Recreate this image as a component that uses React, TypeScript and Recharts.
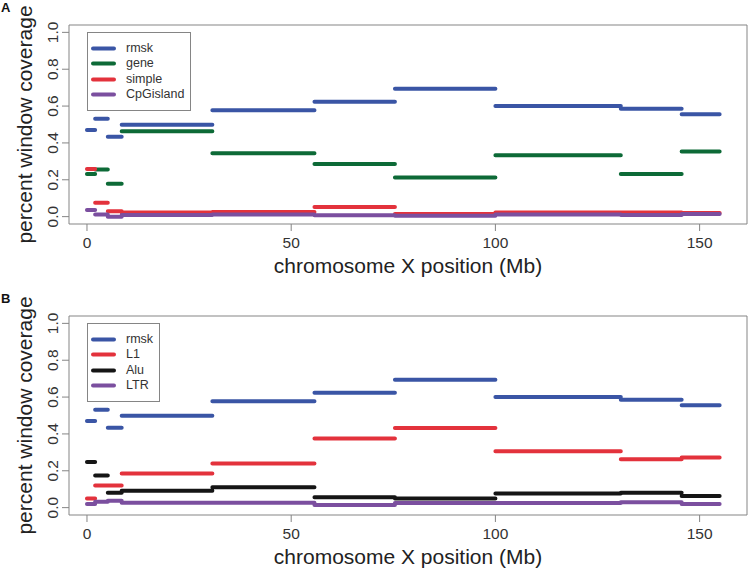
import { ComposedChart, Label, Legend, Line, ReferenceArea, XAxis, YAxis } from "recharts";

// window boundaries along chrX (Mb)
const binEdges = [0, 2, 5.1, 8.5, 30.7, 55.7, 75.4, 100, 130.7, 145.6, 154.9];

const xTicks = [0, 50, 100, 150];
const yTicks = [0, 0.2, 0.4, 0.6, 0.8, 1.0];

// panel A
const rmsk = [0.47, 0.531, 0.434, 0.499, 0.578, 0.623, 0.694, 0.6, 0.585, 0.555];
const gene = [0.232, 0.256, 0.178, 0.463, 0.344, 0.286, 0.212, 0.333, 0.231, 0.353];
const simple = [0.259, 0.075, 0.029, 0.022, 0.025, 0.052, 0.014, 0.023, 0.023, 0.02];
const cpgIsland = [0.036, 0.011, 0.0, 0.009, 0.012, 0.007, 0.005, 0.012, 0.009, 0.014];

// panel B
const l1 = [0.05, 0.12, 0.12, 0.185, 0.239, 0.375, 0.432, 0.306, 0.263, 0.272];
const alu = [0.247, 0.175, 0.081, 0.092, 0.11, 0.057, 0.049, 0.077, 0.081, 0.063];
const ltr = [0.02, 0.032, 0.038, 0.027, 0.027, 0.014, 0.025, 0.025, 0.029, 0.02];

const BLUE = "#3a55a5";
const GREEN = "#0d6a37";
const RED = "#e3323c";
const PURPLE = "#7b4f9f";
const BLACK = "#151515";

const FONT = "'Liberation Sans', Arial, Helvetica, sans-serif";
const AXIS_GRAY = "#858585";
const xDomain: [number, number] = [-4.4, 161.6];
const yDomain: [number, number] = [-0.04, 1.04];

type Series = { name: string; color: string; values: number[] };

// each window drawn as its own flat segment, broken by a null point
function steps(values: number[]) {
  const pts: { x: number; y: number | null }[] = [];
  values.forEach((v, i) => {
    pts.push({ x: binEdges[i], y: v });
    pts.push({ x: binEdges[i + 1], y: v });
    pts.push({ x: binEdges[i + 1], y: null });
  });
  return pts;
}

function XTick({ x, y, payload }: any) {
  return (
    <text x={x} y={y} dy={17} textAnchor="middle" fontSize={15.5} fill="#333" fontFamily={FONT}>
      {payload.value}
    </text>
  );
}

function YTick({ y, payload }: any) {
  const bx = 58;
  return (
    <text
      x={bx}
      y={y}
      transform={`rotate(-90 ${bx} ${y})`}
      textAnchor="middle"
      fontSize={15.5}
      fill="#333"
      fontFamily={FONT}
    >
      {Number(payload.value).toFixed(1)}
    </text>
  );
}

function LegendBox({ payload, order }: any) {
  const items = [...(payload || [])].sort(
    (a: any, b: any) => order.indexOf(a.value) - order.indexOf(b.value)
  );
  return (
    <div
      style={{
        border: `1px solid ${AXIS_GRAY}`,
        background: "#fff",
        padding: "8px 6px 8px 2px",
        fontFamily: FONT,
        fontSize: 12.5,
        color: "#333",
      }}
    >
      {items.map((p: any) => (
        <div key={p.value} style={{ display: "flex", alignItems: "center", height: 15.3 }}>
          <svg width={26} height={15} style={{ display: "block" }}>
            <line x1={3} x2={24} y1={7.5} y2={7.5} stroke={p.color} strokeWidth={4} strokeLinecap="round" />
          </svg>
          <span style={{ marginLeft: 10, lineHeight: "15px" }}>{p.value}</span>
        </div>
      ))}
    </div>
  );
}

function Panel({
  letter,
  series,
  height,
  marginTop,
  marginBottom,
  legendTop,
}: {
  letter: string;
  series: Series[];
  height: number;
  marginTop: number;
  marginBottom: number;
  legendTop: number;
}) {
  return (
    <div style={{ position: "relative", width: 748, height }}>
      <div
        style={{
          position: "absolute",
          left: 1,
          top: 0,
          fontFamily: FONT,
          fontWeight: "bold",
          fontSize: 13,
          lineHeight: "16px",
          color: "#111",
        }}
      >
        {letter}
      </div>
      <ComposedChart width={748} height={height} margin={{ top: marginTop, right: 1, bottom: marginBottom, left: 0 }}>
        <XAxis
          type="number"
          dataKey="x"
          domain={xDomain}
          allowDataOverflow
          ticks={xTicks}
          tickSize={7}
          tickMargin={0}
          axisLine={false}
          tickLine={{ stroke: AXIS_GRAY }}
          tick={<XTick />}
          height={50}
        >
          <Label
            content={({ viewBox }: any) => (
              <text
                x={viewBox.x + viewBox.width / 2}
                y={viewBox.y + 49}
                textAnchor="middle"
                fontSize={21}
                fill="#222"
                fontFamily={FONT}
              >
                chromosome X position (Mb)
              </text>
            )}
          />
        </XAxis>
        <YAxis
          type="number"
          domain={yDomain}
          allowDataOverflow
          ticks={yTicks}
          tickSize={7}
          tickMargin={2}
          axisLine={false}
          tickLine={{ stroke: AXIS_GRAY }}
          tick={<YTick />}
          width={69}
        >
          <Label
            content={({ viewBox }: any) => {
              const cy = viewBox.y + viewBox.height / 2;
              return (
                <text
                  x={32}
                  y={cy}
                  transform={`rotate(-90 32 ${cy})`}
                  textAnchor="middle"
                  fontSize={21}
                  fill="#222"
                  fontFamily={FONT}
                >
                  percent window coverage
                </text>
              );
            }}
          />
        </YAxis>
        <ReferenceArea
          x1={xDomain[0]}
          x2={xDomain[1]}
          y1={yDomain[0]}
          y2={yDomain[1]}
          fill="none"
          stroke={AXIS_GRAY}
          strokeWidth={1}
          ifOverflow="visible"
        />
        {series.map((s) => (
          <Line
            key={s.name}
            name={s.name}
            data={steps(s.values)}
            dataKey="y"
            stroke={s.color}
            strokeWidth={4}
            strokeLinecap="round"
            dot={false}
            activeDot={false}
            connectNulls={false}
            isAnimationActive={false}
            type="linear"
          />
        ))}
        <Legend
          layout="vertical"
          align="center"
          verticalAlign="middle"
          wrapperStyle={{ left: 87, top: legendTop, width: "auto", height: "auto" }}
          content={<LegendBox order={series.map((s) => s.name)} />}
        />
      </ComposedChart>
    </div>
  );
}

export default function App() {
  const seriesA: Series[] = [
    { name: "rmsk", color: BLUE, values: rmsk },
    { name: "gene", color: GREEN, values: gene },
    { name: "simple", color: RED, values: simple },
    { name: "CpGisland", color: PURPLE, values: cpgIsland },
  ];
  const seriesB: Series[] = [
    { name: "rmsk", color: BLUE, values: rmsk },
    { name: "L1", color: RED, values: l1 },
    { name: "Alu", color: BLACK, values: alu },
    { name: "LTR", color: PURPLE, values: ltr },
  ];
  return (
    <div style={{ position: "absolute", left: 0, top: 0, width: 748, height: 569, background: "#fff" }}>
      <Panel letter="A" series={seriesA} height={291} marginTop={25} marginBottom={17} legendTop={32} />
      <Panel letter="B" series={seriesB} height={278} marginTop={25} marginBottom={4} legendTop={32} />
    </div>
  );
}
